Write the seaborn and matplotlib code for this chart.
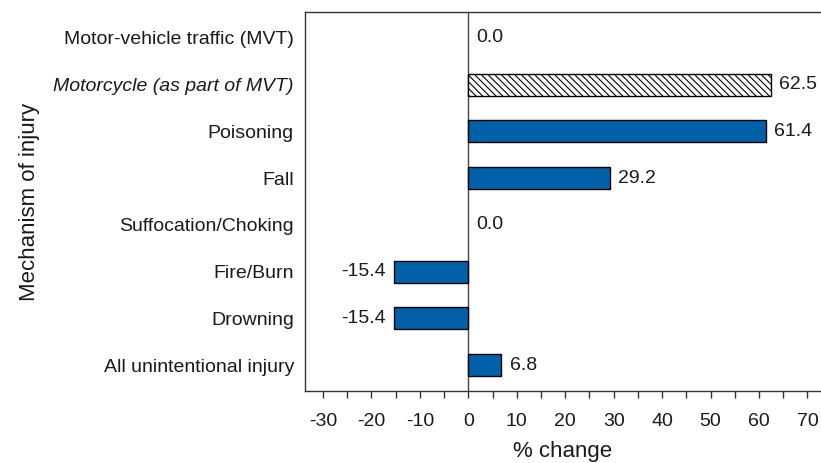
import seaborn as sns
import matplotlib.pyplot as plt
from matplotlib.ticker import MultipleLocator

# data
categories = ["Motor-vehicle traffic (MVT)", "Motorcycle (as part of MVT)", "Poisoning",
              "Fall", "Suffocation/Choking", "Fire/Burn", "Drowning",
              "All unintentional injury"]
pct_change = [0.0, 62.5, 61.4, 29.2, 0.0, -15.4, -15.4, 6.8]

blue = "#0060A8"

sns.set_style("white")
plt.rcParams['font.family'] = ['Liberation Sans', 'DejaVu Sans']
plt.rcParams['hatch.linewidth'] = 0.8
plt.rcParams['axes.unicode_minus'] = False
for key in ['text.color', 'axes.labelcolor', 'xtick.labelcolor', 'ytick.labelcolor']:
    plt.rcParams[key] = '#1a1a1a'

fig = plt.figure(figsize=(8.21, 4.63), dpi=100)
ax = fig.add_axes([0.3715, 0.1555, 0.6285, 0.8185])

sns.barplot(x=pct_change, y=categories, orient="h", color=blue, saturation=1,
            edgecolor="black", linewidth=1.0, width=0.47, ax=ax)

# motorcycle bar is hatched, zero bars have no outline
for bar, v in zip(ax.patches, pct_change):
    if v == 0:
        bar.set_linewidth(0)
moto = ax.patches[1]
moto.set_facecolor("white")
moto.set_hatch("\\\\\\\\\\")

ax.axvline(0, color="#444444", linewidth=1.0, zorder=0.5)

# value labels
for i, v in enumerate(pct_change):
    if v < 0:
        ax.annotate(f"{v:.1f}", (v, i), xytext=(-6, 0), textcoords="offset points",
                    ha="right", va="center", fontsize=14)
    else:
        ax.annotate(f"{v:.1f}", (v, i), xytext=(6, 0), textcoords="offset points",
                    ha="left", va="center", fontsize=14)

ax.set_xlim(-33.7, 72.8)
ax.set_ylim(7.55, -0.55)
ax.xaxis.set_major_locator(MultipleLocator(10))
ax.xaxis.set_minor_locator(MultipleLocator(5))
ax.tick_params(axis="x", which="both", direction="out", length=5, width=1,
               color="#333333", labelsize=14, pad=11, bottom=True)
ax.tick_params(axis="y", length=0, labelsize=14, pad=8)
ax.get_yticklabels()[1].set_fontstyle("italic")

ax.set_xlabel("% change", fontsize=16, labelpad=8)
ax.set_ylabel("Mechanism of injury", fontsize=16, labelpad=10)

for spine in ax.spines.values():
    spine.set_edgecolor("#333333")
    spine.set_linewidth(1.0)
ax.spines['right'].set_visible(False)

fig.savefig("out.png", dpi=100)
